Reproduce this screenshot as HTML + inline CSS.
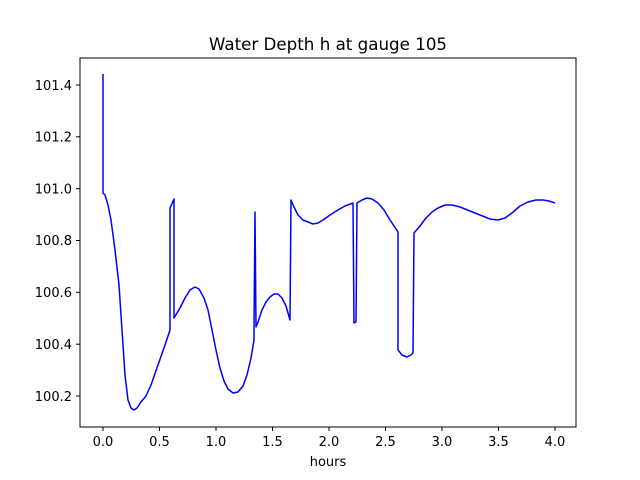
<!DOCTYPE html>
<html><head><meta charset="utf-8"><style>body{margin:0;background:#fff}svg{display:block}</style></head>
<body>
<svg width="640" height="480" xmlns="http://www.w3.org/2000/svg" font-family="DejaVu Sans, Liberation Sans, sans-serif">
<rect width="640" height="480" fill="#fff"/>
<path fill="none" stroke="#0000ff" stroke-width="1.5" stroke-linejoin="round" d="M103,74 L103,193 L105,195 L108,205 L111,220 L115,250 L119,285 L122,330 L125,375 L128,400 L131,408 L134,410 L137,408 L141,402 L146,396 L151,385 L158,365 L165,345 L170,330 L170,208 L174,199 L174,318 L180,308 L185,298 L190,290 L195,287 L199,289 L204,298 L208,310 L212,330 L216,350 L220,368 L224,381 L228,389 L233,393 L238,392 L243,386 L247,375 L251,358 L254,340 L254,330 L255,212 L256,327 L258,322 L262,310 L266,302 L270,297 L274,294 L278,294 L282,298 L286,306 L290,320 L291,200 L294,207 L298,215 L303,220 L308,222 L313,224 L318,223 L323,220 L330,215 L338,210 L345,206 L353,203 L354,323 L356,322 L357,203 L362,200 L367,198 L372,199 L378,203 L384,210 L390,220 L396,229 L398,232 L398,350 L402,355 L407,357 L411,355 L413,353 L414,233 L420,226 L426,218 L432,212 L438,208 L445,205 L452,205 L460,207 L470,211 L480,215 L490,219 L498,220 L505,218 L512,213 L520,206 L528,202 L536,200 L543,200 L549,201 L555,203"/>
<rect x="80" y="58" width="496" height="369" fill="none" stroke="#000" stroke-width="1"/>
<g stroke="#000" stroke-width="1">
<line x1="103" y1="427" x2="103" y2="431"/><line x1="159.5" y1="427" x2="159.5" y2="431"/><line x1="216" y1="427" x2="216" y2="431"/><line x1="272.5" y1="427" x2="272.5" y2="431"/><line x1="329" y1="427" x2="329" y2="431"/><line x1="385.5" y1="427" x2="385.5" y2="431"/><line x1="442" y1="427" x2="442" y2="431"/><line x1="498.5" y1="427" x2="498.5" y2="431"/><line x1="555" y1="427" x2="555" y2="431"/>
<line x1="76" y1="396" x2="80" y2="396"/><line x1="76" y1="344.2" x2="80" y2="344.2"/><line x1="76" y1="292.3" x2="80" y2="292.3"/><line x1="76" y1="240.5" x2="80" y2="240.5"/><line x1="76" y1="188.7" x2="80" y2="188.7"/><line x1="76" y1="136.8" x2="80" y2="136.8"/><line x1="76" y1="85" x2="80" y2="85"/>
</g>
<g font-size="13" text-anchor="middle" fill="#000">
<text x="103" y="446">0.0</text><text x="159.5" y="446">0.5</text><text x="216" y="446">1.0</text><text x="272.5" y="446">1.5</text><text x="329" y="446">2.0</text><text x="385.5" y="446">2.5</text><text x="442" y="446">3.0</text><text x="498.5" y="446">3.5</text><text x="555" y="446">4.0</text>
<text x="328" y="466">hours</text>
<text x="328" y="50" font-size="16.7">Water Depth h at gauge 105</text>
</g>
<g font-size="13" text-anchor="end" fill="#000">
<text x="72" y="401">100.2</text><text x="72" y="349">100.4</text><text x="72" y="297">100.6</text><text x="72" y="245">100.8</text><text x="72" y="193.5">101.0</text><text x="72" y="141.5">101.2</text><text x="72" y="90">101.4</text>
</g>
</svg>
</body></html>
